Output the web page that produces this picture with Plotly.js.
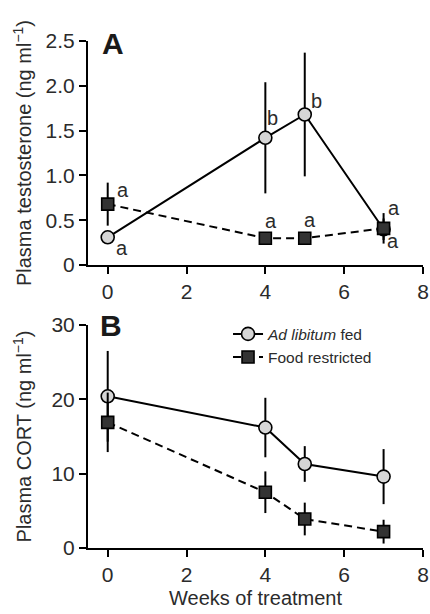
<!DOCTYPE html>
<html>
<head>
<meta charset="utf-8">
<script src="https://cdn.plot.ly/plotly-3.0.1.min.js"></script>
<style>html,body{margin:0;padding:0;background:#fff;}#chart{width:430px;height:614px;}</style>
</head>
<body>
<div id="chart"></div>
<script>
// ---- data ----
var weeks = [0, 4, 5, 7];
var testoAdLib = [0.31, 1.42, 1.68, 0.40];
var testoAdLibErr = [0.04, 0.62, 0.69, 0.12];
var testoFood = [0.68, 0.30, 0.30, 0.41];
var testoFoodErr = [0.24, 0.03, 0.04, 0.17];
var cortAdLib = [20.4, 16.2, 11.3, 9.6];
var cortAdLibErr = [6.1, 4.0, 2.4, 3.7];
var cortFood = [16.9, 7.5, 3.9, 2.2];
var cortFoodErr = [4.0, 2.8, 2.2, 1.6];
var lettersAdLib = ['a', 'b', 'b', 'a'];
var lettersFood = ['a', 'a', 'a', 'a'];
var xTicks = [0, 2, 4, 6, 8];
var yTicksA = [0, 0.5, 1.0, 1.5, 2.0, 2.5];
var yTickTextA = ['0', '0.5', '1.0', '1.5', '2.0', '2.5'];
var yTicksB = [0, 10, 20, 30];
var nameAdLib = '<i>Ad libitum</i> fed';
var nameFood = 'Food restricted';

// ---- style ----
var FONT = 'Liberation Sans, Arial, sans-serif';
var TXT = '#2b2b2b';
var labelShiftAdLib = [[14, -11], [7, 20], [12, 14], [9, -12]];
var labelShiftFood = [[15, 14], [6, 17], [5, 18], [10, 20]];

function errBar(arr) {
  return {type: 'data', array: arr, visible: true, color: '#000', thickness: 2, width: 0};
}
var circ = {symbol: 'circle', size: 13, color: '#d6d6d6', line: {color: '#000', width: 1.6}};
var sq = {symbol: 'square', size: 12, color: '#333333', line: {color: '#000', width: 1.6}};

var traces = [
  {x: weeks, y: testoAdLib, error_y: errBar(testoAdLibErr), mode: 'lines+markers', name: nameAdLib,
   line: {color: '#000', width: 2}, marker: circ, xaxis: 'x', yaxis: 'y', showlegend: false},
  {x: weeks, y: testoFood, error_y: errBar(testoFoodErr), mode: 'lines+markers', name: nameFood,
   line: {color: '#000', width: 2, dash: '8px,5px'}, marker: sq, xaxis: 'x', yaxis: 'y', showlegend: false},
  {x: weeks, y: cortAdLib, error_y: errBar(cortAdLibErr), mode: 'lines+markers', name: nameAdLib,
   line: {color: '#000', width: 2}, marker: circ, xaxis: 'x2', yaxis: 'y2'},
  {x: weeks, y: cortFood, error_y: errBar(cortFoodErr), mode: 'lines+markers', name: nameFood,
   line: {color: '#000', width: 2, dash: '8px,5px'}, marker: sq, xaxis: 'x2', yaxis: 'y2'}
];

var annotations = [];
function addLetters(letters, vals, shifts) {
  for (var i = 0; i < weeks.length; i++) {
    annotations.push({x: weeks[i], y: vals[i], xref: 'x', yref: 'y', text: letters[i], showarrow: false,
      xshift: shifts[i][0], yshift: shifts[i][1], font: {family: FONT, size: 20, color: TXT}});
  }
}
addLetters(lettersAdLib, testoAdLib, labelShiftAdLib);
addLetters(lettersFood, testoFood, labelShiftFood);

var domA = [0.558, 1.0], domB = [0, 0.44];
annotations.push({xref: 'paper', yref: 'paper', x: 0, y: (domA[0] + domA[1]) / 2, xshift: -66, textangle: -90,
  text: 'Plasma testosterone (ng ml<sup>\u22121</sup>)', showarrow: false, xanchor: 'center', yanchor: 'middle',
  font: {family: FONT, size: 20, color: TXT}});
annotations.push({xref: 'paper', yref: 'paper', x: 0, y: (domB[0] + domB[1]) / 2, xshift: -66, textangle: -90,
  text: 'Plasma CORT (ng ml<sup>\u22121</sup>)', showarrow: false, xanchor: 'center', yanchor: 'middle',
  font: {family: FONT, size: 20, color: TXT}});
annotations.push({xref: 'paper', yref: 'paper', x: 0.5, y: 0, yshift: -50, text: 'Weeks of treatment',
  showarrow: false, xanchor: 'center', yanchor: 'middle', font: {family: FONT, size: 20, color: TXT}});
annotations.push({xref: 'paper', yref: 'paper', x: 0, y: domA[1], xshift: 25, yshift: -2, text: '<b>A</b>',
  showarrow: false, xanchor: 'center', yanchor: 'middle', font: {family: FONT, size: 30, color: '#1a1a1a'}});
annotations.push({xref: 'paper', yref: 'paper', x: 0, y: domB[1], xshift: 23, yshift: -1, text: '<b>B</b>',
  showarrow: false, xanchor: 'center', yanchor: 'middle', font: {family: FONT, size: 30, color: '#1a1a1a'}});

function xAxis(anchor) {
  return {domain: [0, 1], range: [-0.5, 8], tickvals: xTicks, anchor: anchor, showgrid: false, zeroline: false,
    showline: true, linecolor: '#000', linewidth: 2, ticks: 'outside', ticklen: 7, tickwidth: 2, tickcolor: '#000',
    tickfont: {family: FONT, size: 21, color: TXT}, fixedrange: true};
}
var layout = {
  width: 430, height: 614,
  margin: {l: 88, r: 7, t: 41, b: 66},
  paper_bgcolor: '#fff', plot_bgcolor: '#fff',
  font: {family: FONT, color: TXT},
  xaxis: xAxis('y'),
  xaxis2: xAxis('y2'),
  yaxis: {domain: domA, range: [0, 2.5], tickvals: yTicksA, ticktext: yTickTextA, anchor: 'x', showgrid: false,
    zeroline: false, showline: true, linecolor: '#000', linewidth: 2, ticks: 'outside', ticklen: 7, tickwidth: 2,
    tickcolor: '#000', tickfont: {family: FONT, size: 21, color: TXT}},
  yaxis2: {domain: domB, range: [0, 30], tickvals: yTicksB, anchor: 'x2', showgrid: false,
    zeroline: false, showline: true, linecolor: '#000', linewidth: 2, ticks: 'outside', ticklen: 7, tickwidth: 2,
    tickcolor: '#000', tickfont: {family: FONT, size: 21, color: TXT}},
  legend: {x: 0.418, y: 0.455, xanchor: 'left', yanchor: 'top', bgcolor: 'rgba(0,0,0,0)', borderwidth: 0,
    font: {family: FONT, size: 15.5, color: TXT}, tracegroupgap: 0},
  annotations: annotations,
  showlegend: true
};
Plotly.newPlot('chart', traces, layout, {displayModeBar: false, staticPlot: true});
</script>
</body>
</html>
